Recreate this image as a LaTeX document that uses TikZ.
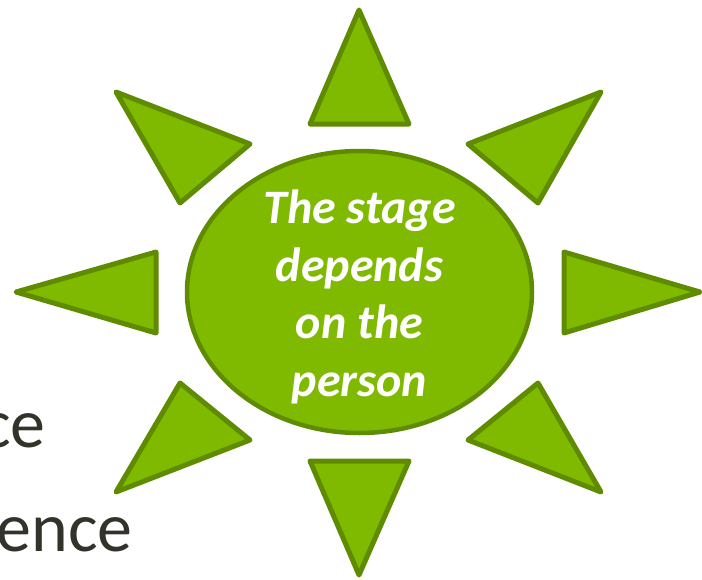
\documentclass[tikz,border=0pt]{standalone}
\usepackage{fontspec}
\setmainfont{Carlito}
\usepackage{xcolor}
\usetikzlibrary{shapes.geometric,positioning}
\definecolor{sunfill}{HTML}{7FBA00}
\definecolor{sunline}{HTML}{5F8B00}
\definecolor{bodytext}{HTML}{33332B}
\tikzset{
    ray/.style={draw=sunline, fill=sunfill, line width=5pt, line join=round},
    bodyline/.style={anchor=base east, inner sep=0pt, text=bodytext, font=\fontsize{70}{70}\selectfont}
}
\begin{document}
\begin{tikzpicture}[x=1pt,y=-1pt]
    \useasboundingbox (0,0) rectangle (702,579);

    \node[ellipse, draw=sunline, fill=sunfill, line width=4.5pt, inner sep=0pt,
        minimum width=345pt, minimum height=282pt] (core) at (359.5,292) {};
    \node[align=center, text=white, inner sep=0pt,
        font=\fontsize{48}{57.7}\selectfont\bfseries\itshape] (corelabel) at (359.5,297)
        {The stage\\depends\\on the\\person};

    \draw[ray] (359,10) -- (310,124) -- (409,124) -- cycle;
    \draw[ray] (601,92) -- (468,144) -- (538,203) -- cycle;
    \draw[ray] (564,252) -- (700,292) -- (564,333) -- cycle;
    \draw[ray] (538,383) -- (468,440) -- (601,492) -- cycle;
    \draw[ray] (310,461) -- (409,461) -- (359,575) -- cycle;
    \draw[ray] (180,383) -- (250,440) -- (116,492) -- cycle;
    \draw[ray] (156,252) -- (16,292) -- (156,333) -- cycle;
    \draw[ray] (116,92) -- (250,144) -- (180,203) -- cycle;

    \node[bodyline] (line1) at (46,447) {ce};
    \node[bodyline] (line2) at (133,551) {ence};
\end{tikzpicture}
\end{document}
